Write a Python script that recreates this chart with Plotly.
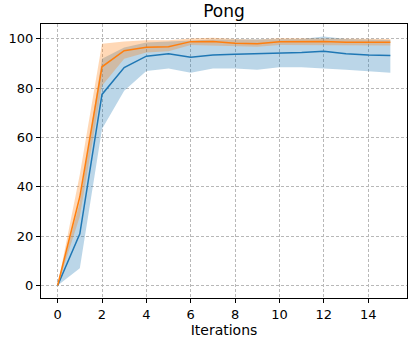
import plotly.graph_objects as go

iterations = list(range(16))

# blue run: mean and shaded band
blue_mean = [0, 21, 77.5, 88.4, 93, 94, 92.6, 93.5, 93.8, 94, 94, 94.5, 95, 94, 93.5, 93.3]
blue_low = [0, 7, 63.5, 79, 87, 88, 86.3, 88, 88, 87.5, 88.5, 88.5, 88, 87.5, 87, 86.3]
blue_high = [0, 34, 92, 96.5, 98.5, 99, 99.5, 99.8, 99.8, 99.8, 100, 100, 101, 100, 99.8, 99.6]

# orange run: mean and shaded band
orange_mean = [0, 36, 88.7, 95.2, 96.6, 96.8, 98.9, 99, 98.2, 98, 98.9, 99, 99, 98.7, 98.7, 98.7]
orange_low = [0, 28, 81, 92, 94.5, 95, 97.5, 97.5, 97, 96.8, 97.5, 97.5, 97.5, 97.3, 97.3, 97.3]
orange_high = [0, 45, 98, 99, 99.5, 99.5, 100.2, 100.5, 100, 99.8, 100.3, 100.3, 100.2, 100, 100, 100]

BLUE = '#1f77b4'
ORANGE = '#ff7f0e'

fig = go.Figure()

# bands as closed polygons (upper then reversed lower)
for low, high, col in [(blue_low, blue_high, 'rgba(31,119,180,0.3)'),
                       (orange_low, orange_high, 'rgba(255,127,14,0.3)')]:
    fig.add_trace(go.Scatter(x=iterations + iterations[::-1], y=high + low[::-1],
                             fill='toself', fillcolor=col, line=dict(width=0),
                             mode='lines', hoverinfo='skip', showlegend=False))

fig.add_trace(go.Scatter(x=iterations, y=blue_mean, mode='lines',
                         line=dict(color=BLUE, width=1.5), showlegend=False))
fig.add_trace(go.Scatter(x=iterations, y=orange_mean, mode='lines',
                         line=dict(color=ORANGE, width=1.5), showlegend=False))

axis_style = dict(showline=True, linecolor='black', linewidth=1, mirror=True,
                  ticks='outside', ticklen=4, tickcolor='black',
                  showgrid=True, gridcolor='#b8b8b8', griddash='3px,2px', gridwidth=0.8,
                  zeroline=False, tickfont=dict(size=13, color='black'))

fig.update_xaxes(range=[-0.75, 15.75], tickvals=[0, 2, 4, 6, 8, 10, 12, 14],
                 title=dict(text='Iterations', font=dict(size=14, color='black'), standoff=4),
                 **axis_style)
fig.update_yaxes(range=[-5.05, 106.05], tickvals=[0, 20, 40, 60, 80, 100], **axis_style)

fig.update_layout(
    width=411, height=339,
    margin=dict(l=41, r=4, t=24, b=41),
    paper_bgcolor='white', plot_bgcolor='white',
    font=dict(family='DejaVu Sans', color='black'),
    title=dict(text='Pong', x=0.545, xanchor='center', y=0.985, yanchor='top',
               font=dict(size=17, color='black')),
)

# drop the default page margin so the figure sits at the window corner
fig.write_html("out.html", config={'displayModeBar': False},
               post_script="document.body.style.margin='0';")
